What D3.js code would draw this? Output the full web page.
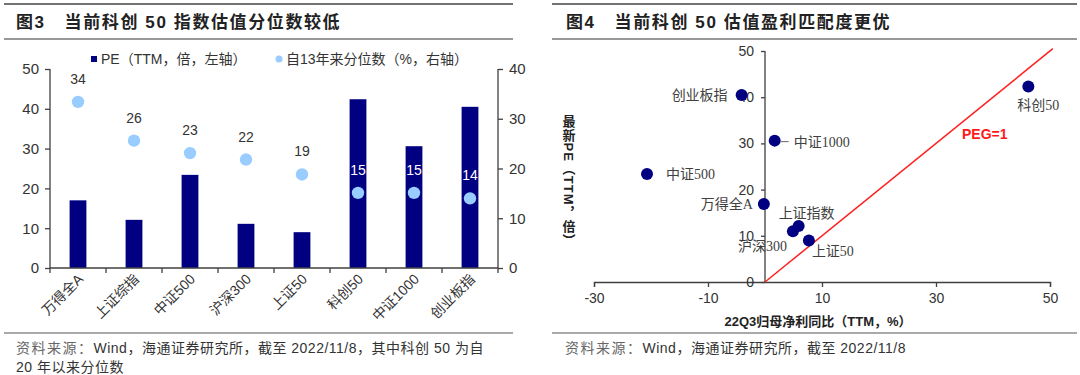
<!DOCTYPE html>
<meta charset="utf-8">
<html>
<head>
<style>
  body { margin:0; background:#fff; }
  svg { display:block; }
  .sans { font-family: "Liberation Sans", Arial, "Noto Sans CJK SC", sans-serif; }
  .serif { font-family: "Liberation Serif", "Noto Sans CJK SC", serif; }
  .axis path, .axis line { stroke:#404040; stroke-width:1.3; }
  .axis text { fill:#333; font-family: "Liberation Sans", Arial, sans-serif; }
</style>
<script src="https://d3js.org/d3.v7.min.js"></script>
</head>
<body>
<svg width="1080" height="375"></svg>
<script>
// ---- left chart data
var categories = ["万得全A", "上证综指", "中证500", "沪深300", "上证50", "科创50", "中证1000", "创业板指"];
var peValues = [17.0, 12.1, 23.4, 11.1, 9.0, 42.4, 30.6, 40.5];
var pctValues = [33.4, 25.6, 23.1, 21.8, 18.8, 15.1, 15.1, 14.0];
var pctLabels = ["34", "26", "23", "22", "19", "15", "15", "14"];
var leftTicks = [0, 10, 20, 30, 40, 50];
var rightTicks = [0, 10, 20, 30, 40];

// ---- right chart data
var names = ["创业板指", "中证1000", "中证500", "万得全A", "上证指数", "沪深300", "上证50", "科创50"];
var growth = [-4.1, 1.7, -20.7, -0.2, 5.9, 4.9, 7.7, 46.2];
var latestPE = [40.5, 30.6, 23.4, 16.9, 12.1, 11.0, 9.0, 42.3];
var pegLine = [[0, 0], [50.5, 50.5]];
var xTicks = [-30, -10, 10, 30, 50];
var yTicks = [0, 10, 20, 30, 40, 50];

var svg = d3.select("svg");

// header / footer rules
function rules(x1, x2) {
  svg.append("line").attr("x1", x1).attr("x2", x2).attr("y1", 4).attr("y2", 4)
    .style("stroke", "#444").style("stroke-width", 1.5);
  svg.append("line").attr("x1", x1).attr("x2", x2).attr("y1", 39).attr("y2", 39)
    .style("stroke", "#333").style("stroke-width", 1.2);
  svg.append("line").attr("x1", x1).attr("x2", x2).attr("y1", 333).attr("y2", 333)
    .style("stroke", "#555").style("stroke-width", 1.2);
}
rules(4, 513);
rules(552, 1077);

function title(x, t) {
  svg.append("text").attr("class", "sans").attr("x", x).attr("y", 28)
    .style("white-space", "pre").style("letter-spacing", "1.6px")
    .style("font-size", "17px").style("font-weight", "bold").style("fill", "#222")
    .text(t);
}
title(16, "图3   当前科创 50 指数估值分位数较低");
title(566, "图4   当前科创 50 估值盈利匹配度更优");

function source(x, y, rest) {
  var t = svg.append("text").attr("class", "sans").attr("x", x).attr("y", y)
    .style("font-size", "14px").style("fill", "#333").style("letter-spacing", "0.5px");
  t.append("tspan").style("fill", "#666").style("letter-spacing", "1.5px").text("资料来源：");
  t.append("tspan").text(rest);
  return t;
}
source(16, 353, "Wind，海通证券研究所，截至 2022/11/8，其中科创 50 为自");
svg.append("text").attr("class", "sans").attr("x", 16).attr("y", 372)
  .style("font-size", "14px").style("fill", "#333").style("letter-spacing", "0.5px").text("20 年以来分位数");
source(565, 353, "Wind，海通证券研究所，截至 2022/11/8");

// ================= left chart =================
var xL = d3.scaleBand().domain(categories).range([50, 498]).padding(0);
var yL = d3.scaleLinear().domain([0, 50]).range([268, 69]);
var yR = d3.scaleLinear().domain([0, 40]).range([268, 69]);
var barW = xL.bandwidth() * 0.3;

var leftData = categories.map((c, i) => ({cat: c, pe: peValues[i], pct: pctValues[i], lab: pctLabels[i]}));

svg.selectAll("rect.bar").data(leftData).enter().append("rect")
  .attr("class", "bar")
  .attr("x", d => xL(d.cat) + xL.bandwidth() / 2 - barW / 2)
  .attr("y", d => yL(d.pe))
  .attr("width", barW)
  .attr("height", d => yL(0) - yL(d.pe))
  .attr("fill", "#000080");

svg.selectAll("circle.pct").data(leftData).enter().append("circle")
  .attr("class", "pct")
  .attr("cx", d => xL(d.cat) + xL.bandwidth() / 2)
  .attr("cy", d => yR(d.pct))
  .attr("r", 6.2)
  .attr("fill", "#99ccff");

svg.selectAll("text.pctlab").data(leftData).enter().append("text")
  .attr("class", "sans pctlab")
  .attr("x", d => xL(d.cat) + xL.bandwidth() / 2)
  .attr("y", d => yR(d.pct) - 18)
  .style("text-anchor", "middle")
  .style("font-size", "14px")
  .style("fill", d => (yR(d.pct) - 24 > yL(d.pe)) ? "#fff" : "#333")
  .text(d => d.lab);

svg.append("g").attr("class", "axis")
  .attr("transform", "translate(50,0)")
  .call(d3.axisLeft(yL).tickValues(leftTicks).tickSize(5).tickPadding(6))
  .call(g => g.selectAll("text").style("font-size", "15px"))
  .call(g => g.select(".domain").attr("d", "M0,268V69"));

svg.append("g").attr("class", "axis")
  .attr("transform", "translate(498,0)")
  .call(d3.axisRight(yR).tickValues(rightTicks).tickSize(5).tickPadding(6))
  .call(g => g.selectAll("text").style("font-size", "15px"))
  .call(g => g.select(".domain").attr("d", "M0,268V69"));

// category axis: ticks between categories
var edges = categories.map(c => xL(c)).concat([xL.range()[1]]);
svg.append("line").attr("x1", 50).attr("x2", 498).attr("y1", 268).attr("y2", 268)
  .style("stroke", "#404040").style("stroke-width", 1.3);
svg.selectAll("line.ctick").data(edges).enter().append("line")
  .attr("class", "ctick")
  .attr("x1", d => d).attr("x2", d => d).attr("y1", 268).attr("y2", 273)
  .style("stroke", "#404040").style("stroke-width", 1.3);
svg.selectAll("text.clab").data(categories).enter().append("text")
  .attr("class", "sans clab")
  .attr("transform", d => "translate(" + (xL(d) + xL.bandwidth() / 2 + 6) + ",280) rotate(-45)")
  .style("text-anchor", "end")
  .style("font-size", "14px")
  .style("fill", "#333")
  .text(d => d);

// legend
svg.append("rect").attr("x", 91).attr("y", 56).attr("width", 6).attr("height", 6).attr("fill", "#000080");
svg.append("text").attr("class", "sans").attr("x", 101).attr("y", 64)
  .style("font-size", "14px").style("fill", "#333").text("PE（TTM，倍，左轴）");
svg.append("circle").attr("cx", 279).attr("cy", 59).attr("r", 3.5).attr("fill", "#99ccff");
svg.append("text").attr("class", "sans").attr("x", 286).attr("y", 64)
  .style("font-size", "14px").style("fill", "#333").text("自13年来分位数（%，右轴）");

// ================= right chart =================
var xS = d3.scaleLinear().domain([-30, 50]).range([594, 1050]);
var yS = d3.scaleLinear().domain([0, 50]).range([282, 51]);

svg.append("g").attr("class", "axis")
  .attr("transform", "translate(0,282)")
  .call(d3.axisBottom(xS).tickValues(xTicks).tickFormat(d => String(d)).tickSize(5).tickPadding(6))
  .call(g => g.selectAll("text").style("font-size", "14px"));

svg.append("g").attr("class", "axis")
  .attr("transform", "translate(" + xS(0) + ",0)")
  .call(d3.axisLeft(yS).tickValues(yTicks).tickSize(4).tickPadding(7))
  .call(g => g.selectAll("text").style("font-size", "14px"))
  .call(g => g.select(".domain").attr("d", "M0,282V51"));

svg.append("path")
  .attr("d", d3.line().x(d => xS(d[0])).y(d => yS(d[1]))(pegLine))
  .style("stroke", "#ff2020").style("stroke-width", 1.5).style("fill", "none");

var pts = names.map((n, i) => ({name: n, g: growth[i], pe: latestPE[i]}));
svg.selectAll("circle.pt").data(pts).enter().append("circle")
  .attr("class", "pt")
  .attr("cx", d => xS(d.g))
  .attr("cy", d => yS(d.pe))
  .attr("r", 6)
  .attr("fill", "#000080");

// label placement relative to each point: [dx, dy, anchor]
var labelOffsets = [[-14, 0, "end"], [19, 1, "start"], [19, 0, "start"], [-11, 0, "end"],
                    [-20, -13, "start"], [-55, 15, "start"], [3, 11, "start"], [-11, 19, "start"]];
svg.selectAll("text.ptlab").data(pts).enter().append("text")
  .attr("class", "serif ptlab")
  .attr("x", (d, i) => xS(d.g) + labelOffsets[i][0])
  .attr("y", (d, i) => yS(d.pe) + labelOffsets[i][1])
  .attr("dy", "0.35em")
  .style("text-anchor", (d, i) => labelOffsets[i][2])
  .style("font-size", "14px")
  .style("fill", "#404040")
  .text(d => d.name);
// leader for 中证1000
svg.append("line")
  .attr("x1", xS(growth[1]) + 6).attr("x2", xS(growth[1]) + 14)
  .attr("y1", yS(latestPE[1]) + 1).attr("y2", yS(latestPE[1]) + 1)
  .style("stroke", "#666").style("stroke-width", 1);

svg.append("text").attr("class", "sans")
  .attr("x", 962).attr("y", 139)
  .style("font-size", "14px").style("font-weight", "bold").style("fill", "#ff1a1a")
  .text("PEG=1");

svg.append("text").attr("class", "sans")
  .attr("x", 818).attr("y", 326)
  .style("text-anchor", "middle").style("font-size", "13px").style("font-weight", "bold").style("fill", "#222")
  .text("22Q3归母净利同比（TTM，%）");

svg.append("text").attr("class", "sans")
  .attr("x", 568).attr("y", 181)
  .style("writing-mode", "vertical-rl").style("letter-spacing", "1px")
  .style("text-anchor", "middle").style("font-size", "13px").style("font-weight", "bold").style("fill", "#222")
  .text("最新PE（TTM，倍）");
</script>
</body>
</html>
